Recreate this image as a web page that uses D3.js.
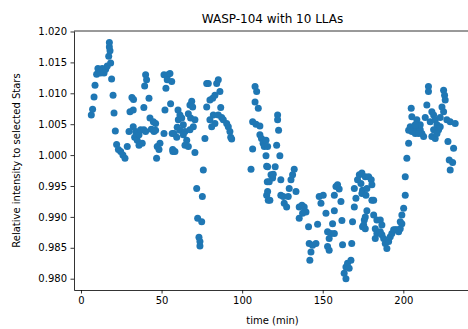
<!DOCTYPE html>
<html>
<head>
<meta charset="utf-8">
<script src="https://cdn.jsdelivr.net/npm/d3@7/dist/d3.min.js"></script>
<style>
  html, body { margin: 0; padding: 0; background: #fff; }
  svg { display: block; font-family: "DejaVu Sans", sans-serif; }
</style>
</head>
<body>
<div id="chart"></div>
<script>
// Light curve readings: time (min) and relative intensity
const times = [
  6.4, 7.2, 8.1, 8.7, 9.7, 10.5, 12.2, 13.2, 14.3, 15.3, 16.3, 18.4, 17.2, 18.0, 17.6, 17.6,
  19.0, 19.9, 20.5, 21.3, 22.1, 23.2, 24.6, 26.0, 27.3, 28.7, 29.8, 31.6, 32.6, 30.4, 32.4, 32.4,
  33.9, 33.3, 34.9, 36.0, 37.0, 38.0, 36.0, 39.0, 40.1, 40.1, 40.7, 39.5, 42.2, 39.0,
  42.8, 44.9, 46.3, 43.6, 45.3, 46.3, 51.5, 54.0, 53.5, 52.7, 55.6, 52.1, 51.5,
  49.0, 47.3, 48.4, 46.9, 56.6, 57.0,
  55.2, 56.3, 57.7, 59.4, 58.3, 56.9, 60.2, 61.4, 60.4, 62.5, 63.5, 59.7, 61.4,
  64.5, 63.5, 65.6, 64.5, 66.6, 67.6, 68.7, 69.3, 66.6, 68.0, 70.7, 69.7, 67.6,
  70.7, 75.9, 71.8, 75.3, 72.4, 74.9, 73.2, 73.8, 73.8, 76.9,
  78.0, 79.0, 85.2, 84.2, 86.2, 80.0, 81.7, 78.0, 83.1,
  86.7, 82.1, 80.0, 81.1, 83.1, 85.2, 87.3, 88.3, 90.4, 91.4, 92.4, 92.9, 93.5,
  105.5, 106.5, 106.5, 108.6, 111.0, 108.0, 109.0, 108.0, 110.0,
  111.0, 112.0, 113.0, 113.7, 114.8, 115.2, 115.6, 115.2, 116.2,
  122.0, 122.0, 122.6, 121.4, 123.4, 114.8, 115.8, 115.8, 117.9, 118.9, 116.8, 115.8, 117.2,
  120.5, 119.3, 124.0, 124.0, 125.5, 126.1, 127.6,
  132.3, 131.3, 130.3, 129.2, 133.4, 128.6,
  135.4, 137.1, 138.5, 139.6, 137.5, 135.4, 141.2, 146.8,
  141.6, 143.7, 142.7, 142.0, 145.8,
  147.8, 148.9, 150.3, 152.0, 153.0, 155.1, 154.0, 153.0, 154.0,
  157.2, 156.1, 157.2, 158.2, 159.2, 160.2, 161.3, 157.2, 161.9,
  162.3, 164.4, 165.4, 166.4, 163.3, 164.4, 167.5, 168.0, 168.5,
  169.6, 170.6, 169.6, 171.6, 172.7, 173.7, 174.7, 174.7, 175.8,
  174.3, 176.4, 178.5, 180.1, 180.5, 177.4, 174.3, 176.8, 180.5, 181.6,
  177.4, 176.4, 175.4, 176.4, 181.6, 183.6, 185.7, 186.7,
  182.6, 183.6, 182.6, 185.7, 186.7, 187.8, 188.8, 189.8, 190.9, 191.9, 192.9, 194.0,
  195.0, 196.0, 197.1, 198.1, 199.1, 198.1, 199.1, 200.2, 201.2, 201.2, 202.2, 203.3, 203.3,
  204.3, 206.4, 207.4, 205.3, 208.4, 209.5, 210.5, 211.5, 212.6, 207.4, 209.5, 210.5,
  204.9, 205.3, 208.4, 207.4,
  215.6, 215.6, 214.6, 213.6, 217.7, 218.8, 216.7, 219.8, 220.9, 218.8, 221.9, 217.7, 219.8, 222.9, 220.9,
  225.0, 225.6, 226.0, 224.0, 225.0, 222.9, 227.0, 229.1, 232.2,
  227.7, 231.2, 228.5, 230.6, 229.1
]
const intensity = [
  1.0065, 1.0074, 1.0094, 1.0113, 1.0131, 1.0140, 1.0133, 1.0140, 1.0133, 1.0139, 1.0144, 1.0149, 1.0160, 1.0169, 1.0175, 1.0182,
  1.0123, 1.0097, 1.0068, 1.0039, 1.0017, 1.0009, 1.0006, 1.0000, 0.9995, 1.0014, 1.0038, 1.0093, 1.0090, 1.0070, 1.0073, 1.0046,
  1.0038, 1.0029, 1.0024, 1.0033, 1.0041, 1.0019, 1.0016, 1.0041, 1.0038, 1.0130, 1.0122, 1.0112, 1.0092, 1.0077,
  1.0060, 1.0054, 1.0051, 1.0042, 1.0038, 1.0040, 1.0130, 1.0130, 1.0122, 1.0108, 1.0083, 1.0073, 1.0035,
  1.0019, 1.0014, 1.0009, 0.9995, 1.0035, 1.0006,
  1.0132, 1.0119, 1.0035, 1.0029, 1.0006, 1.0009, 1.0073, 1.0065, 1.0057, 1.0060, 1.0049, 1.0045, 1.0040,
  1.0038, 1.0033, 1.0024, 1.0016, 1.0014, 1.0081, 1.0087, 1.0078, 1.0067, 1.0060, 1.0057, 1.0046, 1.0041,
  1.0004, 0.9976, 0.9946, 0.9933, 0.9898, 0.9892, 0.9867, 0.9860, 0.9853, 1.0027,
  1.0116, 1.0116, 1.0122, 1.0116, 1.0103, 1.0089, 1.0092, 1.0078, 1.0097,
  1.0077, 1.0065, 1.0057, 1.0046, 1.0051, 1.0065, 1.0061, 1.0057, 1.0051, 1.0046, 1.0038, 1.0029, 1.0026,
  0.9977, 1.0010, 1.0054, 1.0050, 1.0047, 1.0111, 1.0103, 1.0086, 1.0076,
  1.0033, 1.0027, 1.0019, 1.0014, 0.9999, 0.9982, 0.9957, 0.9935, 0.9927,
  1.0065, 1.0057, 1.0040, 1.0016, 0.9999, 1.0024, 1.0014, 0.9981, 0.9968, 0.9963, 0.9957, 0.9941, 0.9927,
  0.9981, 0.9969, 0.9960, 0.9935, 0.9933, 0.9922, 0.9916,
  0.9977, 0.9968, 0.9960, 0.9946, 0.9941, 0.9933,
  0.9916, 0.9919, 0.9916, 0.9908, 0.9906, 0.9898, 0.9884, 0.9888,
  0.9857, 0.9854, 0.9843, 0.9830, 0.9857,
  0.9933, 0.9922, 0.9935, 0.9906, 0.9876, 0.9873, 0.9865, 0.9852, 0.9846,
  0.9910, 0.9889, 0.9935, 0.9949, 0.9952, 0.9945, 0.9925, 0.9873, 0.9894,
  0.9855, 0.9819, 0.9825, 0.9817, 0.9809, 0.9800, 0.9830, 0.9857, 0.9892,
  0.9916, 0.9930, 0.9946, 0.9960, 0.9968, 0.9954, 0.9943, 0.9884, 0.9895,
  0.9971, 0.9965, 0.9965, 0.9960, 0.9952, 0.9946, 0.9938, 0.9935, 0.9927, 0.9927,
  0.9910, 0.9900, 0.9887, 0.9881, 0.9903, 0.9895, 0.9895, 0.9887,
  0.9881, 0.9873, 0.9865, 0.9876, 0.9871, 0.9865, 0.9857, 0.9849, 0.9860, 0.9868, 0.9873, 0.9879,
  0.9879, 0.9879, 0.9876, 0.9881, 0.9889, 0.9892, 0.9903, 0.9914, 0.9935, 0.9965, 0.9995, 1.0019, 1.0040,
  1.0046, 1.0043, 1.0041, 1.0038, 1.0043, 1.0046, 1.0041, 1.0035, 1.0030, 1.0035, 1.0035, 1.0049,
  1.0076, 1.0062, 1.0057, 1.0049,
  1.0111, 1.0103, 1.0081, 1.0061, 1.0070, 1.0065, 1.0054, 1.0057, 1.0049, 1.0041, 1.0041, 1.0030, 1.0027, 1.0046, 1.0035,
  1.0105, 1.0097, 1.0089, 1.0078, 1.0070, 1.0061, 1.0057, 1.0054, 1.0051,
  1.0022, 1.0011, 0.9992, 0.9988, 0.9976
]
const xTicks = [0, 50, 100, 150, 200]
const yTicks = [0.980, 0.985, 0.990, 0.995, 1.000, 1.005, 1.010, 1.015, 1.020]

const width = 468
const height = 329
const box = { left: 74, right: 471, top: 31, bottom: 290 }

const svg = d3.select("#chart").append("svg")
  .attr("width", width)
  .attr("height", height)

const x = d3.scaleLinear().domain([-4.34, 242.0]).range([box.left, box.right])
const y = d3.scaleLinear().domain([0.97817, 1.02008]).range([box.bottom, box.top])

const points = times.map((t, i) => ({ t, v: intensity[i] }))

// Points
svg.append("g")
  .selectAll("circle")
  .data(points)
  .enter().append("circle")
  .attr("cx", d => x(d.t))
  .attr("cy", d => y(d.v))
  .attr("r", 3.5)
  .attr("fill", "#1f77b4")

// Axes
const xAxis = svg.append("g")
  .attr("transform", `translate(0,${box.bottom})`)
  .call(d3.axisBottom(x).tickValues(xTicks).tickSize(3.5).tickPadding(3.5).tickSizeOuter(0))
const yAxis = svg.append("g")
  .attr("transform", `translate(${box.left},0)`)
  .call(d3.axisLeft(y).tickValues(yTicks).tickFormat(d3.format(".3f")).tickSize(3.5).tickPadding(3.5).tickSizeOuter(0))

for (const ax of [xAxis, yAxis]) {
  ax.selectAll("text").attr("fill", "#000").attr("font-size", 10).attr("font-family", "DejaVu Sans")
  ax.selectAll(".tick line").attr("stroke", "#000").attr("stroke-width", 0.8)
  ax.select(".domain").attr("stroke", "#000").attr("stroke-width", 0.8)
}

// Top and right spines
svg.append("line")
  .attr("x1", box.left).attr("x2", box.right)
  .attr("y1", box.top).attr("y2", box.top)
  .attr("stroke", "#000").attr("stroke-width", 0.8)
svg.append("line")
  .attr("x1", box.right).attr("x2", box.right)
  .attr("y1", box.top).attr("y2", box.bottom)
  .attr("stroke", "#000").attr("stroke-width", 0.8)

// Labels
const cx = (box.left + box.right) / 2
svg.append("text")
  .attr("x", cx).attr("y", 23)
  .attr("text-anchor", "middle")
  .attr("font-size", 12)
  .text("WASP-104 with 10 LLAs")

svg.append("text")
  .attr("x", cx).attr("y", 324)
  .attr("text-anchor", "middle")
  .attr("font-size", 10)
  .text("time (min)")

svg.append("text")
  .attr("transform", `translate(20,${(box.top + box.bottom) / 2}) rotate(-90)`)
  .attr("text-anchor", "middle")
  .attr("font-size", 10)
  .text("Relative intensity to selected Stars")
</script>
</body>
</html>
